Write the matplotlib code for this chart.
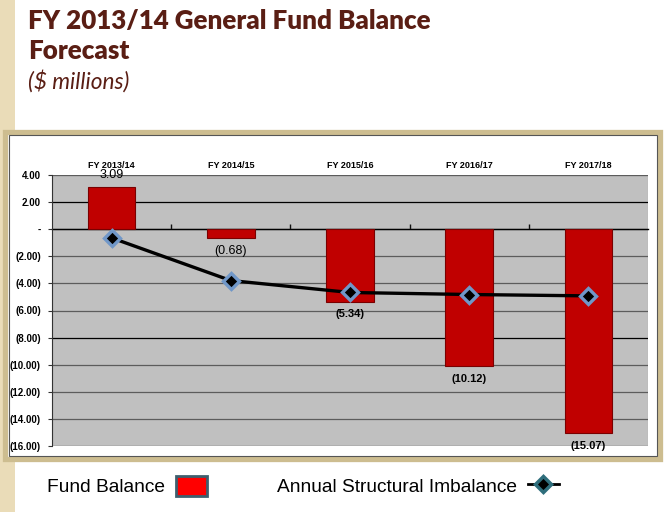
import numpy as np
import matplotlib.pyplot as plt
from matplotlib.patches import Rectangle, Patch
from matplotlib.lines import Line2D

years = ["FY 2013/14", "FY 2014/15", "FY 2015/16", "FY 2016/17", "FY 2017/18"]
fund_balance = [3.09, -0.68, -5.34, -10.12, -15.07]
structural_imbalance = [-0.64, -3.79, -4.67, -4.82, -4.92]
yticks = [4, 2, 0, -2, -4, -6, -8, -10, -12, -14, -16]

W, H = 665, 512

def fx(x):
    return x / W

def fy(y):
    return 1 - y / H

def money(v):
    if v == 0:
        return "-"
    if v < 0:
        return "(%.2f)" % abs(v)
    return "%.2f" % v

fig = plt.figure(figsize=(W / 100, H / 100), dpi=100)
fig.patch.set_facecolor("white")

# slide decoration strip on the left
fig.patches.append(Rectangle((0, 0), fx(15), 1, transform=fig.transFigure,
                             facecolor="#eadcb8", edgecolor="none", zorder=-5))

# title
brown = "#5a1e14"
fig.text(fx(28), fy(21), "FY 2013/14 General Fund Balance", family="Lato",
         weight="heavy", fontsize=18.7, color=brown, va="center", ha="left")
fig.text(fx(28), fy(51), "Forecast", family="Lato",
         weight="heavy", fontsize=18.7, color=brown, va="center", ha="left")
fig.text(fx(28), fy(81), "($ millions)", family="Lato", style="italic",
         fontsize=16.3, color=brown, va="center", ha="left")

# chart frame
fig.patches.append(Rectangle((fx(5.5), fy(458.5)), fx(654), (458.5 - 131.5) / H,
                             transform=fig.transFigure, facecolor="white",
                             edgecolor="#cdbd90", linewidth=3.8, zorder=-4))
fig.patches.append(Rectangle((fx(8.5), fy(456)), fx(648.5), (456 - 134.5) / H,
                             transform=fig.transFigure, facecolor="none",
                             edgecolor="#555555", linewidth=0.8, zorder=-3))

ax = fig.add_axes([fx(52), fy(446), fx(596), (446 - 175) / H])
ax.set_facecolor("#c0c0c0")
# zero line acts as the category axis (this resets the x ticks, so do it first)
ax.spines["bottom"].set_position(("data", 0))
ax.spines["bottom"].set_color("black")
ax.spines["bottom"].set_linewidth(1.0)
ax.spines["bottom"].set_zorder(2)
ax.spines["left"].set_color("#333333")
ax.spines["top"].set_visible(False)
ax.spines["right"].set_visible(False)

x = np.arange(len(years))
bars = ax.bar(x, fund_balance, width=0.4, color="#c00000", edgecolor="#7a0000",
              linewidth=0.8, zorder=3)
ax.plot(x, structural_imbalance, color="black", linewidth=2.4, marker="D",
        markersize=8.5, markerfacecolor="black", markeredgecolor="#7097c8",
        markeredgewidth=2.4, zorder=4)

for i, v in enumerate(fund_balance):
    if v >= 0:
        ax.annotate(money(v), (x[i], v), xytext=(0, 9), textcoords="offset points",
                    ha="center", va="center", fontsize=9, family="Liberation Sans",
                    zorder=5, annotation_clip=False)
    elif i == 1:
        ax.annotate(money(v), (x[i], v), xytext=(0, -9), textcoords="offset points",
                    ha="center", va="center", fontsize=9, family="Liberation Sans",
                    zorder=5, annotation_clip=False)
    else:
        ax.annotate(money(v), (x[i], v), xytext=(0, -9), textcoords="offset points",
                    ha="center", va="center", fontsize=8, family="Liberation Sans",
                    weight="bold", zorder=5, annotation_clip=False)

ax.set_xlim(-0.5, len(years) - 0.5)
ax.set_ylim(-16, 4)
ax.set_yticks(yticks)
ax.set_yticklabels([money(v) for v in yticks], fontsize=7, weight="bold",
                   family="Liberation Sans")
ax.tick_params(axis="y", length=3, width=0.8, color="#333333", pad=5)

ax.set_xticks(x[:-1] + 0.5, minor=True)
ax.tick_params(axis="x", which="minor", bottom=True, direction="in", length=3.5,
               width=1.0, color="#111111")
ax.tick_params(axis="x", which="major", bottom=False, top=False, labelbottom=False,
               labeltop=True, pad=0)
ax.set_xticks(x)
ax.set_xticklabels(years, fontsize=6.5, fontweight="bold", family="Liberation Sans")

ax.yaxis.grid(True, color="#5c5c5c", linewidth=0.9, zorder=1)
for v, gl in zip(yticks, ax.get_ygridlines()):
    if v in (2, -8):
        gl.set_color("black")
ax.set_axisbelow(True)

ax.add_patch(Rectangle((0, 0), 1, 1, transform=ax.transAxes, fill=False,
                       edgecolor="#9a9a9a", linewidth=0.8, zorder=0.5))

handles = [Patch(facecolor="#ff0000", edgecolor="#3e5f6e", linewidth=2),
           Line2D([], [], color="black", linewidth=2, marker="D", markersize=8,
                  markerfacecolor="black", markeredgecolor="#2f6e7c", markeredgewidth=2.5)]
fig.legend(handles, ["Fund Balance", "Annual Structural Imbalance"],
           loc="center left", bbox_to_anchor=(fx(47), fy(486)), ncol=2,
           markerfirst=False, frameon=False, borderpad=0, borderaxespad=0,
           handlelength=1.65, handleheight=1.2, handletextpad=0.55,
           columnspacing=3.65, prop={"family": "Liberation Sans", "size": 13.8})

plt.savefig("out.png", dpi=100)
